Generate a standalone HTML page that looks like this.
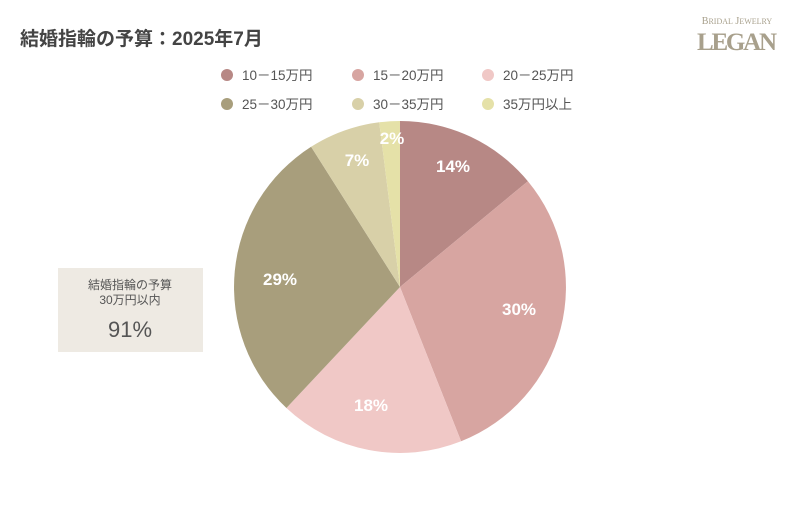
<!DOCTYPE html>
<html><head><meta charset="utf-8"><style>
body{margin:0;width:800px;height:500px;background:#fff;overflow:hidden;font-family:"Liberation Sans","Noto Sans CJK JP",sans-serif;}
</style></head><body>
<svg width="800" height="500" xmlns="http://www.w3.org/2000/svg" font-family="Liberation Sans, Noto Sans CJK JP, sans-serif">
<text x="20" y="45" font-size="19" font-weight="bold" fill="#444">結婚指輪の予算：2025年7月</text>
<text x="737" y="24" font-size="10" fill="#a8a08c" text-anchor="middle" font-family="Liberation Serif, serif">B<tspan font-size="8">RIDAL</tspan> J<tspan font-size="8">EWELRY</tspan></text>
<text x="737" y="50" font-size="25" font-weight="bold" fill="#a8a08c" text-anchor="middle" font-family="Liberation Serif, serif" textLength="80">LEGAN</text>
<g font-size="13.5" fill="#555">
<circle cx="227" cy="75" r="6" fill="#b78885"/><text x="242" y="80">10－15万円</text>
<circle cx="358" cy="75" r="6" fill="#d7a5a1"/><text x="373" y="80">15－20万円</text>
<circle cx="488" cy="75" r="6" fill="#f0c8c6"/><text x="503" y="80">20－25万円</text>
<circle cx="227" cy="104" r="6" fill="#a89e7c"/><text x="242" y="109">25－30万円</text>
<circle cx="358" cy="104" r="6" fill="#d8d0a8"/><text x="373" y="109">30－35万円</text>
<circle cx="488" cy="104" r="6" fill="#e5e1a8"/><text x="503" y="109">35万円以上</text>
</g>
<path d="M400,287 L400,121 A166,166 0 0 1 527.9,181.2 Z" fill="#b78885"/>
<path d="M400,287 L527.9,181.2 A166,166 0 0 1 461.1,441.3 Z" fill="#d7a5a1"/>
<path d="M400,287 L461.1,441.3 A166,166 0 0 1 286.4,408.0 Z" fill="#f0c8c6"/>
<path d="M400,287 L286.4,408.0 A166,166 0 0 1 311.1,146.8 Z" fill="#a89e7c"/>
<path d="M400,287 L311.1,146.8 A166,166 0 0 1 379.2,122.3 Z" fill="#d8d0a8"/>
<path d="M400,287 L379.2,122.3 A166,166 0 0 1 400,121 Z" fill="#e5e1a8"/>
<g font-size="17" font-weight="bold" fill="#fff" text-anchor="middle">
<text x="453" y="172">14%</text>
<text x="519" y="315">30%</text>
<text x="371" y="411">18%</text>
<text x="280" y="285">29%</text>
<text x="357" y="166">7%</text>
<text x="392" y="144">2%</text>
</g>
<rect x="58" y="268" width="145" height="84" fill="#eeeae3"/>
<g fill="#555" text-anchor="middle">
<text x="130" y="289" font-size="12">結婚指輪の予算</text>
<text x="130" y="304" font-size="12">30万円以内</text>
<text x="130" y="337" font-size="22">91%</text>
</g>
</svg>
</body></html>
